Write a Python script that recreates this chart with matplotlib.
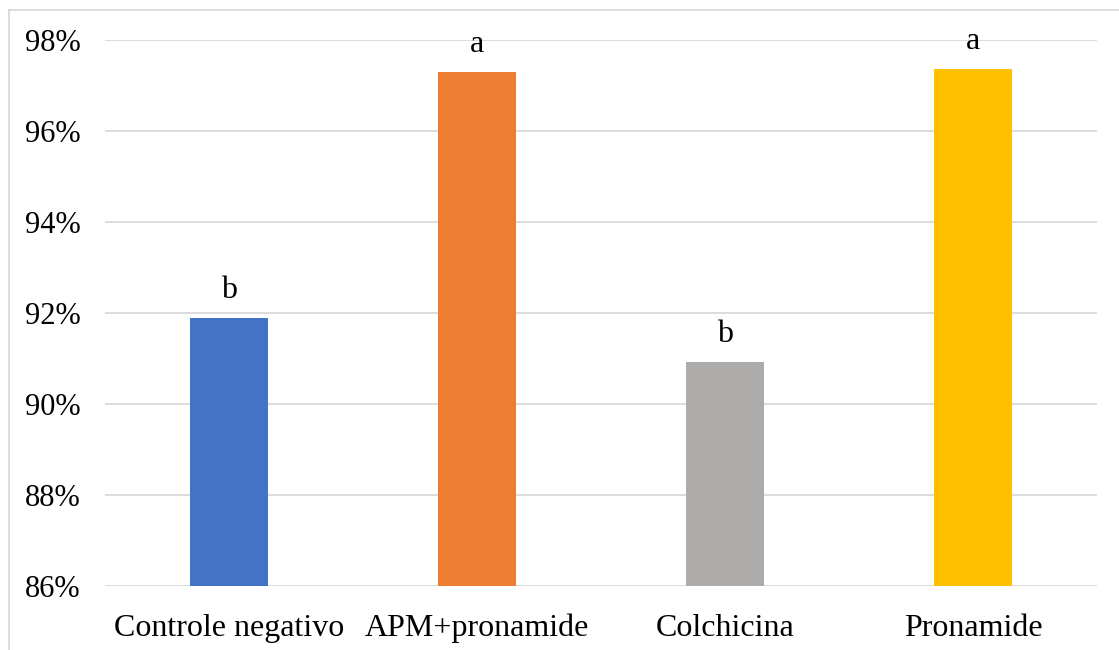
import matplotlib
matplotlib.use("Agg")
import matplotlib.pyplot as plt
from matplotlib.ticker import FuncFormatter

categories = ["Controle negativo", "APM+pronamide", "Colchicina", "Pronamide"]
values = [91.89, 97.30, 90.92, 97.36]
letters = ["b", "a", "b", "a"]
colors = ["#4472C4", "#ED7D31", "#AEABAB", "#FFC000"]
yticks = [86, 88, 90, 92, 94, 96, 98]

plt.rcParams['font.family'] = ['Liberation Serif', 'DejaVu Serif']

fig = plt.figure(figsize=(11.19, 6.5), dpi=100)
ax = fig.add_axes([105/1119, 1-586/650, 992/1119, 546/650])

x = list(range(len(categories)))
ax.bar(x, values, width=0.315, color=colors, zorder=3)
for xi, v, l in zip(x, values, letters):
    ax.annotate(l, (xi, v), xytext=(0, 14.5), textcoords="offset points",
                ha="center", va="baseline", fontsize=23, color="black")

ax.set_xlim(-0.5, 3.5)
ax.set_ylim(86, 98)
ax.set_yticks(yticks)
ax.yaxis.set_major_formatter(FuncFormatter(lambda v, p: f"{v:.0f}%"))
ax.set_xticks(x)
ax.set_xticklabels(categories)
ax.tick_params(axis='both', length=0)
ax.tick_params(axis='y', pad=17.5, labelsize=22)
ax.tick_params(axis='x', pad=20, labelsize=23)
ax.grid(axis='y', color="#D9D9D9", linewidth=1.3, zorder=0)
for s in ax.spines.values():
    s.set_visible(False)

# outer chart border (left and top visible)
fig.add_artist(plt.Line2D([9/1119, 9/1119], [0, 1-10/650], transform=fig.transFigure,
                          color="#D9D9D9", linewidth=1.3))
fig.add_artist(plt.Line2D([9/1119, 1], [1-10/650, 1-10/650], transform=fig.transFigure,
                          color="#D9D9D9", linewidth=1.3))

fig.savefig("out.png", dpi=100)
